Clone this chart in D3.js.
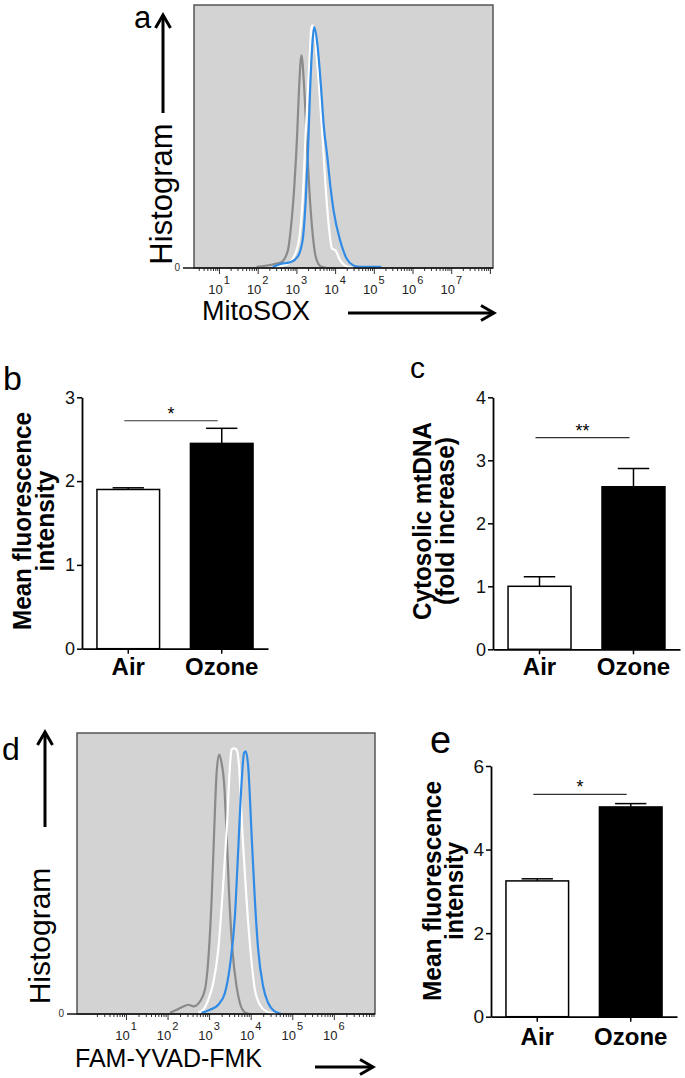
<!DOCTYPE html>
<html>
<head>
<meta charset="utf-8">
<script src="https://cdn.jsdelivr.net/npm/d3@7"></script>
<style>
  body { margin: 0; background: #fff; }
  svg { display: block; font-family: "Liberation Sans", Arial, sans-serif; }
</style>
</head>
<body>
<svg id="fig" width="685" height="1078"></svg>
<script>
// histogram traces: [log10 fluorescence, % of plot height]
var mitoGray = [[1.97,0.4],[2.44,1.5],[2.61,2.2],[2.78,6.7],[2.86,15.6],[2.95,32],[3.02,51],[3.07,68.8],[3.13,80.9],
  [3.20,68.8],[3.26,51],[3.33,30.8],[3.42,13],[3.50,4.2],[3.63,0.6],[3.80,0]];
var mitoWhite = [[2.44,0.4],[2.78,1.6],[3.03,8],[3.16,25.7],[3.24,51],[3.33,76.4],[3.39,91.6],[3.42,92.3],[3.47,89],
  [3.58,70],[3.67,51],[3.75,32],[3.84,15.6],[3.92,7.4],[4.01,6.7],[4.13,2.9],[4.30,0.6],[4.47,0]];
var mitoBlue = [[2.39,0.4],[2.61,1.6],[2.86,2.3],[3.03,4.2],[3.16,10.5],[3.24,25.7],[3.30,44.7],[3.35,66.3],[3.42,86.6],
  [3.46,91.6],[3.54,85.3],[3.63,70],[3.71,53.6],[3.80,42.2],[3.88,30.8],[3.96,21.9],[4.13,10.5],[4.30,3.5],[4.47,1],
  [4.64,0.4],[5.15,0.4],[5.2,0]];

var yvadGray = [[2.06,0.4],[2.22,1.5],[2.38,2.7],[2.50,3.3],[2.62,2.7],[2.78,4.5],[2.90,8.7],[2.98,19.3],[3.06,40.7],
  [3.12,64.4],[3.18,85.8],[3.24,92.3],[3.30,89.3],[3.36,82.2],[3.42,64.4],[3.48,43],[3.56,22.9],[3.66,9.8],[3.74,3.9],
  [3.86,0.6],[3.98,0]];
var yvadWhite = [[2.74,0.4],[2.86,1.5],[2.98,5.1],[3.10,11],[3.22,22.9],[3.34,46.6],[3.44,70.3],[3.50,88.1],[3.54,94.1],
  [3.58,94.5],[3.66,94.1],[3.72,88.1],[3.80,64.4],[3.90,40.7],[4.00,21.7],[4.10,8.7],[4.22,3.3],[4.38,0.9],[4.62,0]];
var yvadBlue = [[2.82,0.4],[3.02,1.5],[3.22,3.3],[3.38,7.5],[3.50,17],[3.62,34.8],[3.70,58.5],[3.78,82.2],[3.84,92.9],
  [3.88,93.5],[3.94,88.1],[4.02,64.4],[4.10,40.7],[4.18,22.9],[4.30,9.8],[4.42,3.9],[4.58,0.9],[4.74,0]];

var decadesA = [1,2,3,4,5,6,7];
var decadesD = [1,2,3,4,5,6];

// bar panels
var groups = ["Air", "Ozone"];
var mitoMfi = [1.90, 2.45], mitoMfiErr = [0.02, 0.18];
var mtDna = [1.00, 2.58], mtDnaErr = [0.15, 0.29];
var caspMfi = [3.25, 5.02], caspMfiErr = [0.05, 0.08];
var ticksB = [0,1,2,3], ticksC = [0,1,2,3,4], ticksE = [0,2,4,6];

var svg = d3.select("#fig");
var traceColors = ["#8a8a8a", "#ffffff", "#2f8be6"];

function drawHistogram(o) {
  var g = svg.append("g");
  var x = d3.scaleLog()
    .domain([Math.pow(10, o.exp[0]), Math.pow(10, o.exp[1])])
    .range([o.x0, o.x1]);
  var y = d3.scaleLinear().domain([0, 100]).range([o.y1, o.y0]);

  g.append("rect")
    .attr("x", o.x0).attr("y", o.y0)
    .attr("width", o.x1 - o.x0).attr("height", o.y1 - o.y0)
    .attr("fill", "#d3d3d3").attr("stroke", "#555").attr("stroke-width", 1.5);

  var line = d3.line()
    .x(function(d) { return x(Math.pow(10, d[0])); })
    .y(function(d) { return y(d[1]); })
    .curve(d3.curveMonotoneX);

  o.series.forEach(function(s, i) {
    g.append("path").attr("d", line(s))
      .attr("fill", "none").attr("stroke", traceColors[i]).attr("stroke-width", 2.2);
  });

  // log ticks
  var minor = [], major = [];
  for (var e = 0; e <= Math.ceil(o.exp[1]); e++) {
    for (var m = 2; m <= 9; m++) {
      var v = m * Math.pow(10, e);
      if (v >= x.domain()[0] && v <= x.domain()[1]) minor.push(v);
    }
    if (e >= 1 && Math.pow(10, e) <= x.domain()[1]) major.push(Math.pow(10, e));
  }
  var ax1 = g.append("g").attr("transform", "translate(0," + o.y1 + ")")
    .call(d3.axisBottom(x).tickValues(minor).tickSize(3).tickFormat(""));
  var ax2 = g.append("g").attr("transform", "translate(0," + o.y1 + ")")
    .call(d3.axisBottom(x).tickValues(major).tickSize(6).tickFormat(""));
  [ax1, ax2].forEach(function(a) {
    a.select(".domain").remove();
    a.selectAll("line").attr("stroke", "#333").attr("stroke-width", 1);
  });

  g.append("line")
    .attr("x1", o.lineLeft).attr("x2", o.x1)
    .attr("y1", o.y1).attr("y2", o.y1)
    .attr("stroke", "#111").attr("stroke-width", 1.6);

  g.append("text").attr("x", o.zeroX).attr("y", o.y1 + 3)
    .attr("text-anchor", "end").attr("font-size", 10).attr("fill", "#333").text("0");

  var lab = g.selectAll(".dec").data(o.decades).enter().append("text")
    .attr("class", "dec")
    .attr("x", function(d) { return x(Math.pow(10, d)); })
    .attr("y", o.y1 + 26)
    .attr("text-anchor", "middle").attr("font-size", 13).attr("fill", "#222");
  lab.append("tspan").text("10");
  lab.append("tspan").attr("dy", -10).attr("dx", 1).attr("font-size", 11).text(function(d) { return d; });

  return g;
}

function drawBars(o) {
  var g = svg.append("g");
  var x = d3.scaleBand().domain(groups).range([o.x0, o.x1])
    .paddingInner(0.33).paddingOuter(0.16);
  var y = d3.scaleLinear().domain([0, o.yMax]).range([o.yZero, o.yTop]);
  var bw = x.bandwidth();

  // error bars (upper only)
  groups.forEach(function(k, i) {
    var cx = x(k) + bw / 2;
    g.append("line").attr("x1", cx).attr("x2", cx)
      .attr("y1", y(o.values[i])).attr("y2", y(o.values[i] + o.errs[i]))
      .attr("stroke", "#000").attr("stroke-width", 1.5);
    g.append("line").attr("x1", cx - bw / 4).attr("x2", cx + bw / 4)
      .attr("y1", y(o.values[i] + o.errs[i])).attr("y2", y(o.values[i] + o.errs[i]))
      .attr("stroke", "#000").attr("stroke-width", 1.5);
  });

  g.selectAll(".bar").data(o.values).enter().append("rect")
    .attr("x", function(d, i) { return x(groups[i]); })
    .attr("y", function(d) { return y(d); })
    .attr("width", bw)
    .attr("height", function(d) { return o.yZero - y(d); })
    .attr("fill", function(d, i) { return i === 0 ? "#fff" : "#000"; })
    .attr("stroke", "#000").attr("stroke-width", 1.5);

  var ya = g.append("g").attr("transform", "translate(" + o.x0 + ",0)")
    .call(d3.axisLeft(y).tickValues(o.ticks).tickSize(5).tickSizeOuter(0).tickPadding(2)
      .tickFormat(d3.format("d")));
  ya.attr("font-family", null).attr("font-size", o.tickFont);
  ya.selectAll("text").attr("fill", "#111");

  var xa = g.append("g").attr("transform", "translate(0," + o.yZero + ")")
    .call(d3.axisBottom(x).tickSize(5).tickSizeOuter(0)
      .tickPadding(o.labelBase - o.yZero - 5 - 17));
  xa.attr("font-family", null).attr("font-size", 24).attr("font-weight", "bold");
  xa.selectAll("text").attr("fill", "#000");

  [ya, xa].forEach(function(a) {
    a.select(".domain").attr("stroke", "#000").attr("stroke-width", 1.8);
    a.selectAll(".tick line").attr("stroke", "#000").attr("stroke-width", 1.5);
  });

  // significance bracket
  var sx1 = x(groups[0]) + bw / 2 - 4, sx2 = x(groups[1]) + bw / 2 - 4;
  g.append("line").attr("x1", sx1).attr("x2", sx2)
    .attr("y1", y(o.sig)).attr("y2", y(o.sig))
    .attr("stroke", "#333").attr("stroke-width", 1.2);
  g.append("text").attr("x", (sx1 + sx2) / 2).attr("y", y(o.sig) - 1)
    .attr("text-anchor", "middle").attr("font-size", 18).text(o.sigText);

  // y title: condensed bold, two lines
  o.title.forEach(function(t, i) {
    g.append("text")
      .attr("transform", "translate(" + o.titleX[i] + "," + o.titleCY + ") rotate(-90)")
      .attr("text-anchor", "middle").attr("font-size", 26).attr("font-weight", "bold")
      .attr("textLength", o.titleLen[i]).attr("lengthAdjust", "spacingAndGlyphs")
      .text(t);
  });
}

function arrow(x1, y1, x2, y2) {
  var ang = Math.atan2(y2 - y1, x2 - x1), L = 13, W = 7.5;
  var bx = x2 - L * Math.cos(ang), by = y2 - L * Math.sin(ang);
  var px = -Math.sin(ang) * W, py = Math.cos(ang) * W;
  svg.append("line").attr("x1", x1).attr("y1", y1).attr("x2", x2).attr("y2", y2)
    .attr("stroke", "#000").attr("stroke-width", 3);
  svg.append("path")
    .attr("d", "M" + (bx + px) + "," + (by + py) + "L" + x2 + "," + y2 + "L" + (bx - px) + "," + (by - py))
    .attr("fill", "none").attr("stroke", "#000").attr("stroke-width", 3);
}

function plainText(x, y, s, size, rot) {
  var t = svg.append("text").attr("font-size", size).text(s);
  if (rot) t.attr("transform", "translate(" + x + "," + y + ") rotate(-90)").attr("text-anchor", "middle");
  else t.attr("x", x).attr("y", y);
  return t;
}

// panel a
drawHistogram({ x0: 194, x1: 493, y0: 5, y1: 268, exp: [0.354, 8.08], decades: decadesA,
  series: [mitoGray, mitoWhite, mitoBlue], lineLeft: 183, zeroX: 180 });
plainText(134, 28, "a", 31);
arrow(163, 113, 163, 15);
plainText(172, 194, "Histogram", 31, true);
plainText(202, 320, "MitoSOX", 27);
arrow(348, 313, 494, 313);

// panel d
drawHistogram({ x0: 77, x1: 375, y0: 733, y1: 1014, exp: [-0.178, 6.99], decades: decadesD,
  series: [yvadGray, yvadWhite, yvadBlue], lineLeft: 67, zeroX: 64 });
plainText(2, 760, "d", 32);
arrow(45, 827, 45, 732);
plainText(50, 936, "Histogram", 30, true);
plainText(75, 1067, "FAM-YVAD-FMK", 25);
arrow(315, 1067, 373, 1067);

// panel b
drawBars({ x0: 82, x1: 268, yZero: 648.7, yTop: 397.3, yMax: 3, ticks: ticksB, tickFont: 18,
  values: mitoMfi, errs: mitoMfiErr, sig: 2.72, sigText: "*", labelBase: 675,
  title: ["Mean fluorescence", "intensity"], titleX: [31, 54], titleLen: [218, 101], titleCY: 521 });
plainText(3, 390, "b", 34);

// panel c
drawBars({ x0: 493, x1: 680, yZero: 649.3, yTop: 397.3, yMax: 4, ticks: ticksC, tickFont: 18,
  values: mtDna, errs: mtDnaErr, sig: 3.36, sigText: "**", labelBase: 675,
  title: ["Cytosolic mtDNA", "(fold increase)"], titleX: [431, 454], titleLen: [198, 168], titleCY: 521 });
plainText(410, 378, "c", 30);

// panel e
drawBars({ x0: 491, x1: 677, yZero: 1016.7, yTop: 766, yMax: 6, ticks: ticksE, tickFont: 19,
  values: caspMfi, errs: caspMfiErr, sig: 5.32, sigText: "*", labelBase: 1045,
  title: ["Mean fluorescence", "intensity"], titleX: [441, 463], titleLen: [220, 98], titleCY: 891 });
plainText(430, 753, "e", 38);
</script>
</body>
</html>
